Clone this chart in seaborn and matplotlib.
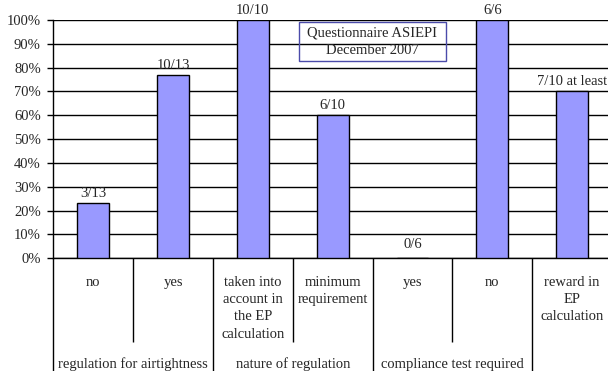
import matplotlib
matplotlib.use("Agg")
import matplotlib.pyplot as plt
import seaborn as sns
import pandas as pd

# Survey answers per question (share of responding countries)
answers = ["no", "yes", "taken into\naccount in\nthe EP\ncalculation",
           "minimum\nrequirement", "yes ", "no ", "reward in\nEP\ncalculation"]
shares = [3 / 13, 10 / 13, 10 / 10, 6 / 10, 0 / 6, 6 / 6, 7 / 10]
counts = ["3/13", "10/13", "10/10", "6/10", "0/6", "6/6", "7/10 at least"]
groups = ["regulation for airtightness", "nature of regulation",
          "compliance test required"]
ytick_labels = [f"{p}%" for p in range(0, 101, 10)]

FS = 10.5

sns.set_theme(style="white")
plt.rcParams["font.family"] = ["Liberation Serif", "DejaVu Serif"]
plt.rcParams["font.size"] = FS

df = pd.DataFrame({"answer": answers, "share": shares})

W, H = 608, 371
fig = plt.figure(figsize=(W / 100, H / 100), dpi=100)
x0, x1, ytop, ybot = 53.3, 612.0, 20.0, 258.3
ax = fig.add_axes([x0 / W, (H - ybot) / H, (x1 - x0) / W, (ybot - ytop) / H])

sns.barplot(data=df, x="answer", y="share", ax=ax, color="#9999FF",
            saturation=1, width=0.4, edgecolor="black", linewidth=1, zorder=3)

ax.set_xlim(-0.5, len(answers) - 0.5)
ax.set_ylim(0, 1)
ax.set_yticks([i / 10 for i in range(11)])
ax.set_yticklabels(ytick_labels, fontsize=FS)
ax.yaxis.grid(True, color="black", linewidth=1, zorder=0)
ax.set_axisbelow(True)
ax.tick_params(axis="y", direction="out", length=4, width=1, color="black",
               pad=5, left=True)
ax.tick_params(axis="x", bottom=False, labelbottom=False)
ax.set_xlabel("")
ax.set_ylabel("")
for side in ("top", "right"):
    ax.spines[side].set_visible(False)
for side in ("left", "bottom"):
    ax.spines[side].set_color("black")
    ax.spines[side].set_linewidth(1)

# Value labels above each bar
for i, (v, lab) in enumerate(zip(shares, counts)):
    ax.annotate(lab, (i, v), xytext=(0, 2.5 if v > 0 else 5),
                textcoords="offset points", ha="center", va="bottom",
                fontsize=FS, annotation_clip=False)

# Category table below the axis
ah = ybot - ytop
def yfrac(py):
    return (ybot - py) / ah

tr = ax.get_xaxis_transform()
short_end = yfrac(341.7)
full_end = yfrac(H + 2)
for b in range(len(answers)):
    xb = b - 0.5
    end = full_end if b % 2 == 0 else short_end
    ax.plot([xb, xb], [0, end], transform=tr, color="black", lw=1,
            clip_on=False, solid_capstyle="butt")

for i, lab in enumerate(answers):
    ax.text(i, yfrac(276.0), lab.strip(), transform=tr, ha="center",
            va="top", fontsize=FS, linespacing=1.42)

for g, lab in enumerate(groups):
    ax.text(2 * g + 0.5, yfrac(364.5), lab, transform=tr, ha="center",
            va="center", fontsize=FS)

# Survey source box
fig.text(372.3 / W, 1 - 41.5 / H, "Questionnaire ASIEPI\nDecember 2007",
         ha="center", va="center", fontsize=FS, linespacing=1.45)
fig.add_artist(plt.Rectangle((299 / W, 1 - 61 / H), (445.7 - 299) / W,
                             (61 - 22.3) / H, transform=fig.transFigure,
                             fill=False, edgecolor="#4B4BAA", lw=1))

fig.savefig("out.png", dpi=100)
